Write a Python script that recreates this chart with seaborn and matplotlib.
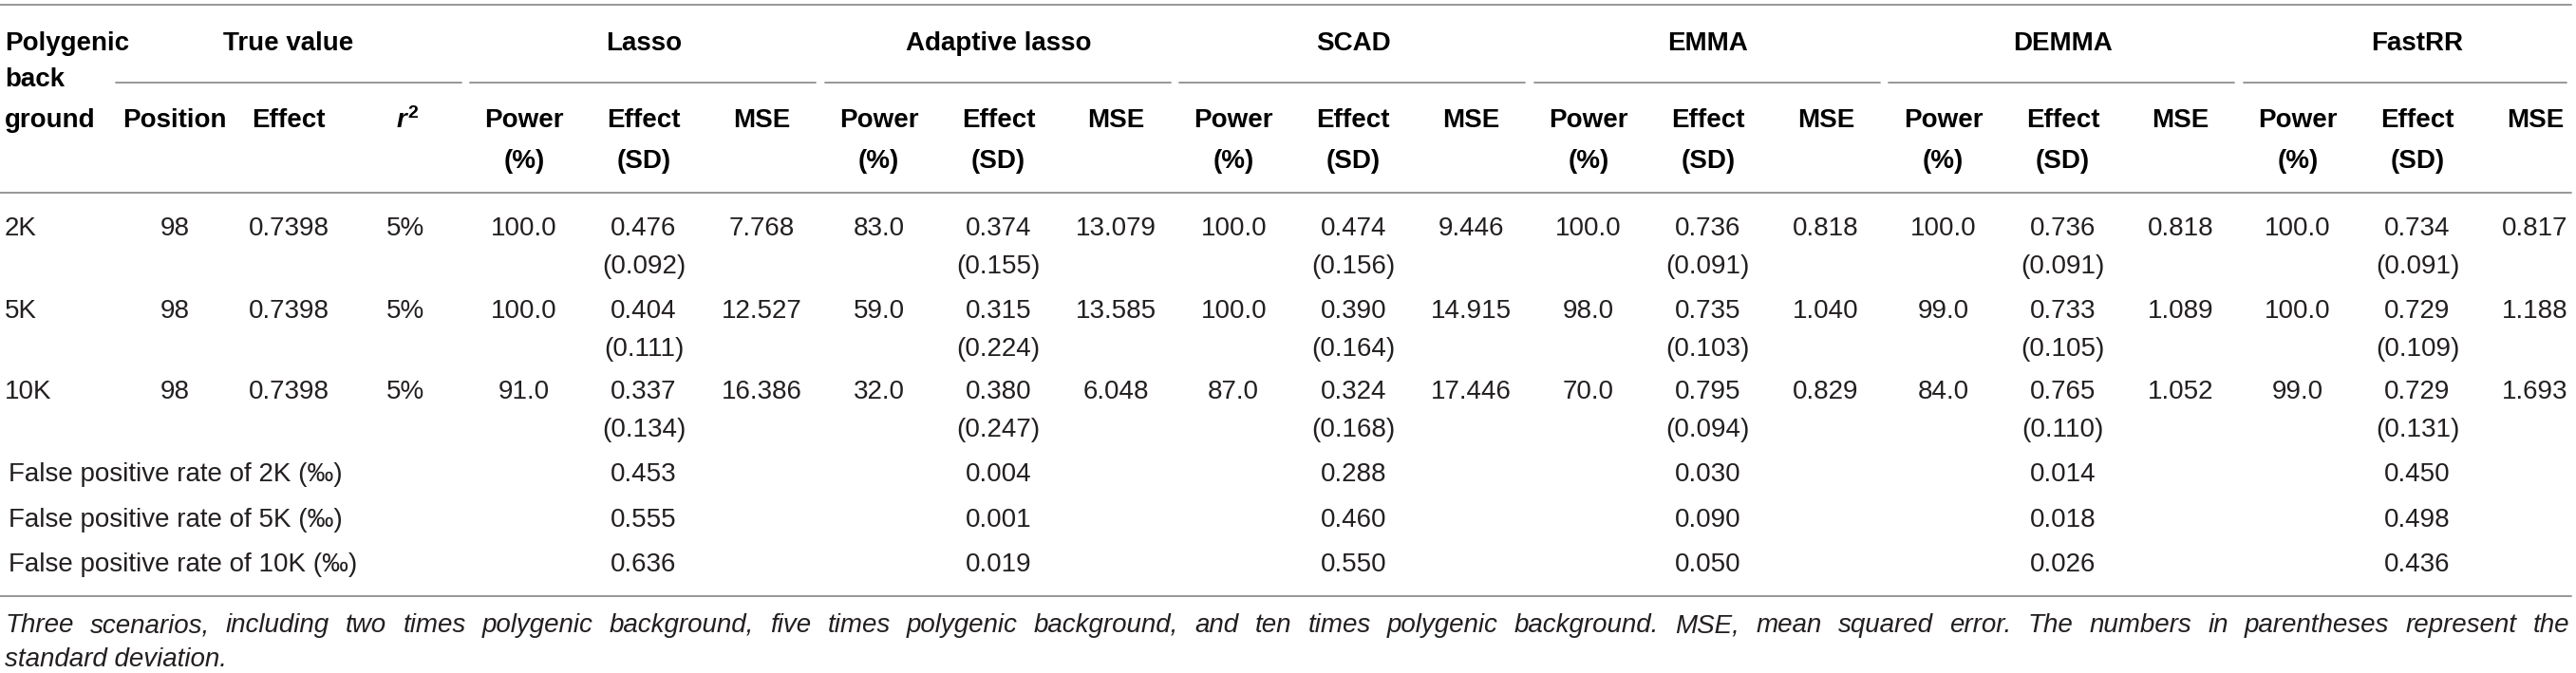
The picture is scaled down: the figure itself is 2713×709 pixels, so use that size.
import matplotlib
matplotlib.use("Agg")
import matplotlib.pyplot as plt
import seaborn as sns

# table content
backgrounds = ["2K", "5K", "10K"]
positions = [98, 98, 98]
true_effects = [0.7398, 0.7398, 0.7398]
r2_values = ["5%", "5%", "5%"]

methods = ["Lasso", "Adaptive lasso", "SCAD", "EMMA", "DEMMA", "FastRR"]
power = [
    [100.0, 100.0, 91.0],
    [83.0, 59.0, 32.0],
    [100.0, 100.0, 87.0],
    [100.0, 98.0, 70.0],
    [100.0, 99.0, 84.0],
    [100.0, 100.0, 99.0],
]
effect = [
    [0.476, 0.404, 0.337],
    [0.374, 0.315, 0.380],
    [0.474, 0.390, 0.324],
    [0.736, 0.735, 0.795],
    [0.736, 0.733, 0.765],
    [0.734, 0.729, 0.729],
]
effect_sd = [
    [0.092, 0.111, 0.134],
    [0.155, 0.224, 0.247],
    [0.156, 0.164, 0.168],
    [0.091, 0.103, 0.094],
    [0.091, 0.105, 0.110],
    [0.091, 0.109, 0.131],
]
mse = [
    [7.768, 12.527, 16.386],
    [13.079, 13.585, 6.048],
    [9.446, 14.915, 17.446],
    [0.818, 1.040, 0.829],
    [0.818, 1.089, 1.052],
    [0.817, 1.188, 1.693],
]
fpr_labels = ["False positive rate of 2K (‰)", "False positive rate of 5K (‰)",
              "False positive rate of 10K (‰)"]
# rows: 2K, 5K, 10K ; columns: methods
fpr = [
    [0.453, 0.004, 0.288, 0.030, 0.014, 0.450],
    [0.555, 0.001, 0.460, 0.090, 0.018, 0.498],
    [0.636, 0.019, 0.550, 0.050, 0.026, 0.436],
]
caption_line1 = ("Three scenarios, including two times polygenic background, five times polygenic "
                 "background, and ten times polygenic background. MSE, mean squared error. "
                 "The numbers in parentheses represent the")
caption_line2 = "standard deviation."

sns.set_theme(style="white")
plt.rcParams["font.family"] = ["Liberation Sans", "DejaVu Sans"]

W, H = 2713, 709
fig = plt.figure(figsize=(W / 100, H / 100), dpi=100)
ax = fig.add_axes([0, 0, 1, 1])
ax.set_xlim(0, W)
ax.set_ylim(H, 0)
ax.axis("off")

fs = 20
txt = "#231f20"
line_c = "#8f8f8f"
lw = 1.3

# column layout (pixels)
x_pos, x_eff, x_r2 = 184, 304, 427
first_power = 552
step = 373.6
power_x = [first_power + i * step for i in range(len(methods))]
effect_x = [p + 126 for p in power_x]
mse_x = [p + 250 for p in power_x]

# horizontal rules
for y in [5, 203, 628]:
    ax.plot([0, 2708], [y, y], color=line_c, lw=lw)
ax.plot([122, 486], [87, 87], color=line_c, lw=lw)
for p in power_x:
    ax.plot([p - 57, min(p + 307, 2703)], [87, 87], color=line_c, lw=lw)

# header
hb = dict(fontsize=fs, fontweight="bold", color="black", va="baseline")
ax.text(5, 53, "Polygenic", ha="left", **hb)
ax.text(5, 91, "back", ha="left", **hb)
ax.text(5, 134, "ground", ha="left", **hb)
ax.text(x_eff, 53, "True value", ha="center", **hb)
ax.text(x_pos, 134, "Position", ha="center", **hb)
ax.text(x_eff, 134, "Effect", ha="center", **hb)
ax.text(x_r2 + 1, 134, "r", ha="right", style="italic", **hb)
ax.text(x_r2 + 2, 124, "2", ha="left", fontsize=14, fontweight="bold", color="black", va="baseline")
for m, p, e, s in zip(methods, power_x, effect_x, mse_x):
    ax.text(e, 53, m, ha="center", **hb)
    ax.text(p, 134, "Power", ha="center", **hb)
    ax.text(p, 177, "(%)", ha="center", **hb)
    ax.text(e, 134, "Effect", ha="center", **hb)
    ax.text(e, 177, "(SD)", ha="center", **hb)
    ax.text(s, 134, "MSE", ha="center", **hb)

# body
bt = dict(fontsize=fs, color=txt, va="baseline")
row_y = [248, 335, 420]
for i, y in enumerate(row_y):
    ax.text(5, y, backgrounds[i], ha="left", **bt)
    ax.text(x_pos, y, f"{positions[i]}", ha="center", **bt)
    ax.text(x_eff, y, f"{true_effects[i]:.4f}", ha="center", **bt)
    ax.text(x_r2, y, r2_values[i], ha="center", **bt)
    for j in range(len(methods)):
        ax.text(power_x[j], y, f"{power[j][i]:.1f}", ha="center", **bt)
        ax.text(effect_x[j], y, f"{effect[j][i]:.3f}", ha="center", **bt)
        ax.text(effect_x[j], y + 40, f"({effect_sd[j][i]:.3f})", ha="center", **bt)
        ax.text(mse_x[j], y, f"{mse[j][i]:.3f}", ha="center", **bt)

fpr_y = [507, 555, 602]
for i, y in enumerate(fpr_y):
    ax.text(9, y, fpr_labels[i], ha="left", **bt)
    for j in range(len(methods)):
        ax.text(effect_x[j], y, f"{fpr[i][j]:.3f}", ha="center", **bt)

# caption, first line justified to the table width
ct = dict(fontsize=fs, color=txt, style="italic", va="baseline", ha="left")
words = caption_line1.split(" ")
fig.canvas.draw()
renderer = fig.canvas.get_renderer()
word_objs = [ax.text(0, 666, w_, **ct) for w_ in words]
widths = [t.get_window_extent(renderer).width for t in word_objs]
left, right = 5, 2706
gap = (right - left - sum(widths)) / (len(words) - 1)
x = left
for t, wd in zip(word_objs, widths):
    t.set_x(x)
    x += wd + gap
ax.text(5, 702, caption_line2, **ct)

fig.savefig("out.png", dpi=100)
